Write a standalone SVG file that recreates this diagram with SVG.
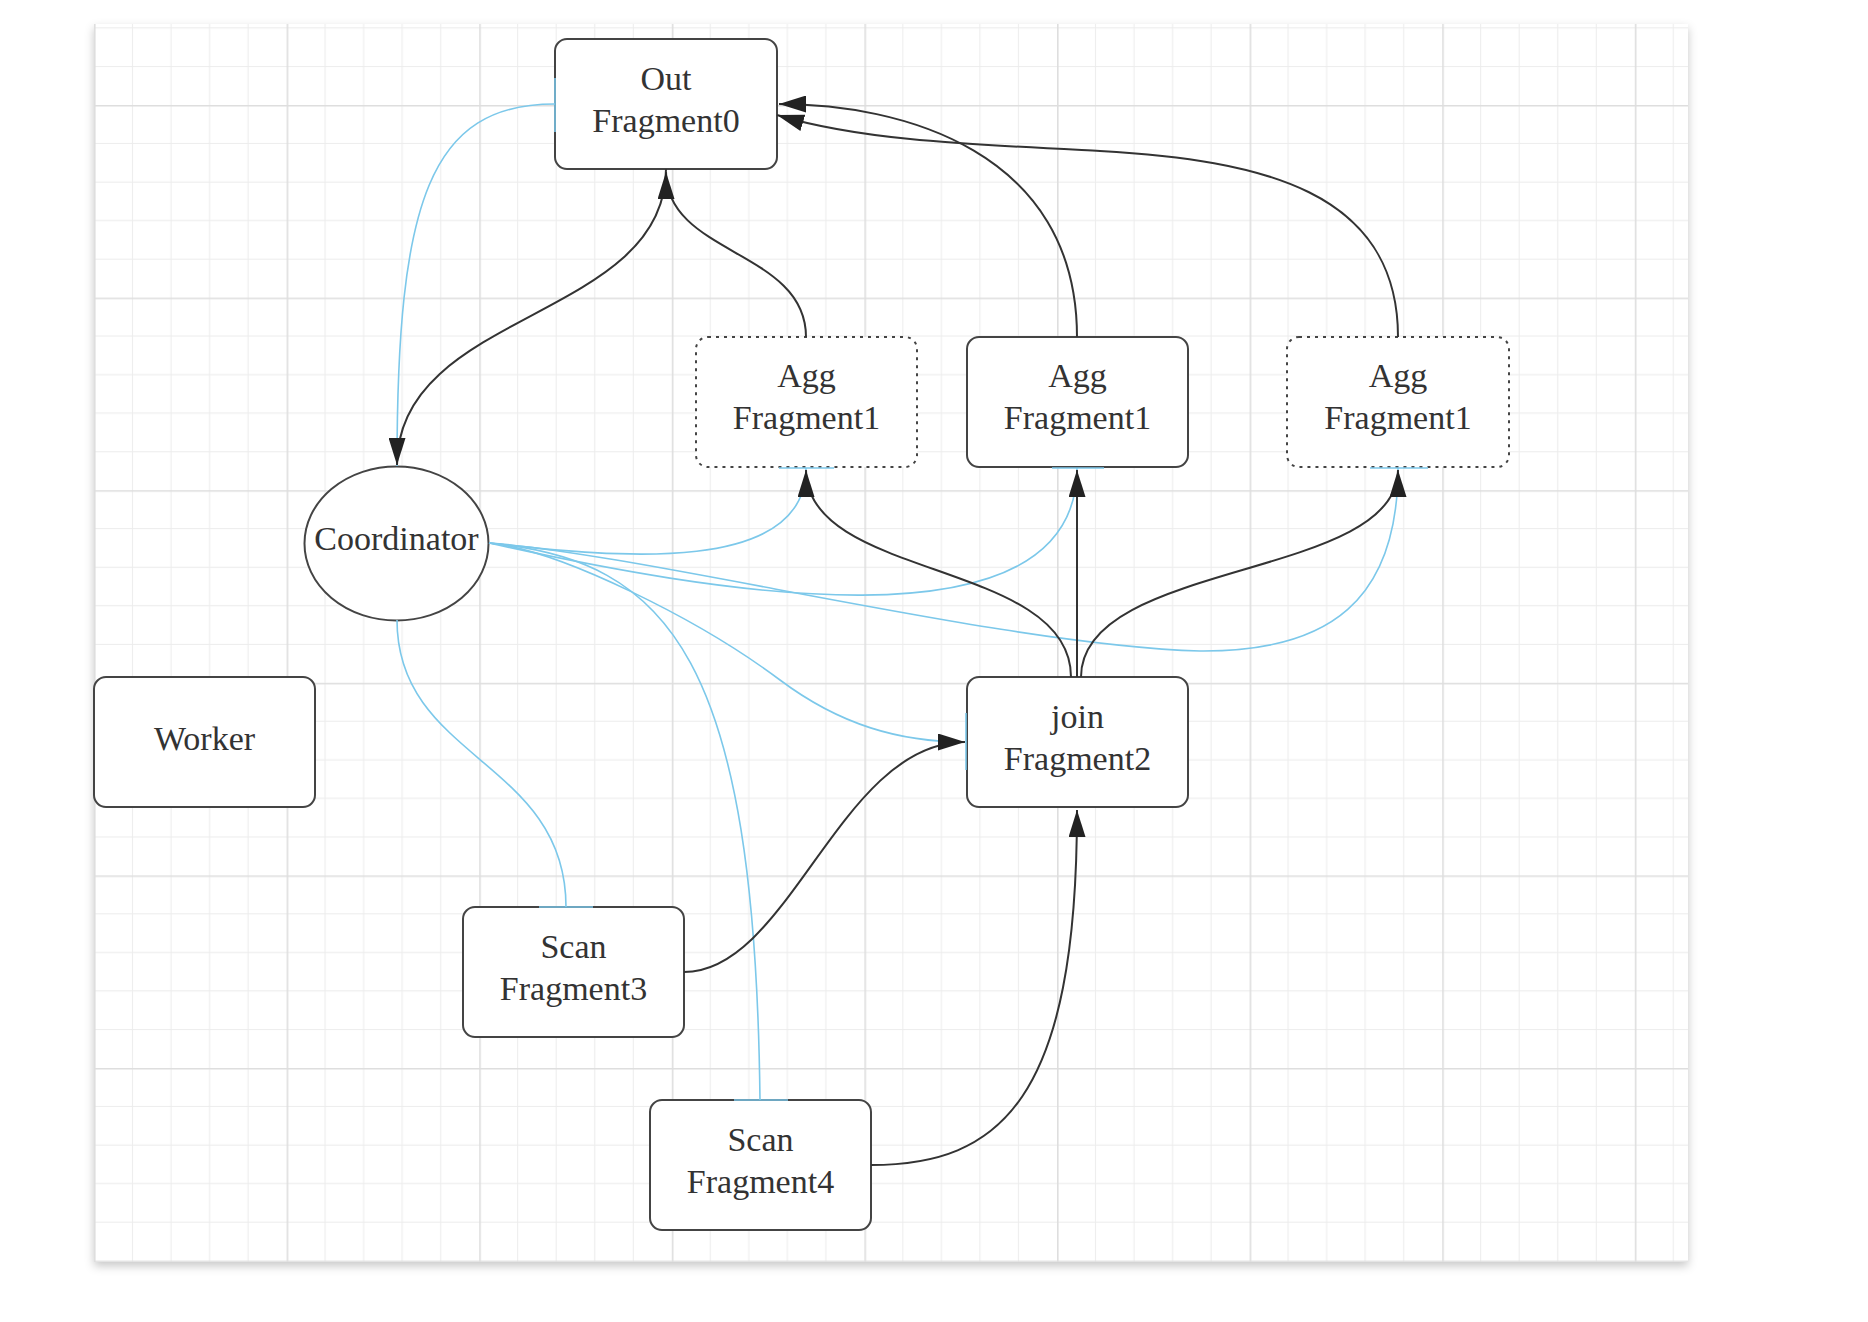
<svg xmlns="http://www.w3.org/2000/svg" width="1868" height="1322" viewBox="0 0 1868 1322">
<defs>
<style>
.box{fill:#fff;stroke:#444;stroke-width:2}
.dashed{stroke-dasharray:3 5}
.lbl{font-family:"Liberation Serif","Times New Roman",serif;font-size:34px;fill:#333;text-anchor:middle}
.edge{fill:none;stroke:#333;stroke-width:2}
.blue{fill:none;stroke:#7cc8ea;stroke-width:1.6}
.minor{stroke:#ececec;stroke-width:1}
.major{stroke:#dedede;stroke-width:1.6}
</style>
<pattern id="grid" x="94" y="105" width="192.6" height="192.6" patternUnits="userSpaceOnUse">
<path class="minor" d="M38.52,0V192.6M77.04,0V192.6M115.56,0V192.6M154.08,0V192.6M0,38.52H192.6M0,77.04H192.6M0,115.56H192.6M0,154.08H192.6"/>
<path class="major" d="M0.8,0V192.6M0,0.8H192.6"/>
</pattern>
<marker id="arr" viewBox="0 0 27 17" refX="27" refY="8.5" markerWidth="27" markerHeight="17" markerUnits="userSpaceOnUse" orient="auto">
<path d="M0,0 L27,8.5 L0,17 z" fill="#222"/>
</marker>
<filter id="sh" x="-5%" y="-5%" width="110%" height="110%">
<feDropShadow dx="0" dy="4" stdDeviation="5" flood-color="#000" flood-opacity="0.22"/>
</filter>
</defs>
<rect x="0" y="0" width="1868" height="1322" fill="#fff"/>
<rect x="94" y="24" width="1594" height="1238" fill="#fff" filter="url(#sh)"/>
<rect x="94" y="24" width="1594" height="1238" fill="url(#grid)"/>

<g id="out-fragment0">
<rect class="box" x="555" y="39" width="222" height="130" rx="12"/>
<text class="lbl" x="666" y="90">Out</text>
<text class="lbl" x="666" y="132">Fragment0</text>
</g>
<g id="agg-fragment1-a">
<rect class="box dashed" x="696" y="337" width="221" height="130" rx="12"/>
<text class="lbl" x="806.5" y="387">Agg</text>
<text class="lbl" x="806.5" y="429">Fragment1</text>
</g>
<g id="agg-fragment1-b">
<rect class="box" x="967" y="337" width="221" height="130" rx="12"/>
<text class="lbl" x="1077.5" y="387">Agg</text>
<text class="lbl" x="1077.5" y="429">Fragment1</text>
</g>
<g id="agg-fragment1-c">
<rect class="box dashed" x="1287" y="337" width="222" height="130" rx="12"/>
<text class="lbl" x="1398" y="387">Agg</text>
<text class="lbl" x="1398" y="429">Fragment1</text>
</g>
<g id="coordinator">
<ellipse class="box" cx="396.5" cy="543.5" rx="92" ry="77"/>
<text class="lbl" x="396.5" y="550">Coordinator</text>
</g>
<g id="worker">
<rect class="box" x="94" y="677" width="221" height="130" rx="12"/>
<text class="lbl" x="204.5" y="750">Worker</text>
</g>
<g id="join-fragment2">
<rect class="box" x="967" y="677" width="221" height="130" rx="12"/>
<text class="lbl" x="1077.5" y="728">join</text>
<text class="lbl" x="1077.5" y="770">Fragment2</text>
</g>
<g id="scan-fragment3">
<rect class="box" x="463" y="907" width="221" height="130" rx="12"/>
<text class="lbl" x="573.5" y="958">Scan</text>
<text class="lbl" x="573.5" y="1000">Fragment3</text>
</g>
<g id="scan-fragment4">
<rect class="box" x="650" y="1100" width="221" height="130" rx="12"/>
<text class="lbl" x="760.5" y="1151">Scan</text>
<text class="lbl" x="760.5" y="1193">Fragment4</text>
</g>

<g id="connectors">
<g id="blue-links">
<path class="blue" d="M555,104 C430,104 397,200 397,466"/>
<path class="blue" d="M489,543 C620,558 806,575 806,468"/>
<path class="blue" d="M489,543 C700,590 1077,660 1077,468"/>
<path class="blue" d="M489,543 C650,555 1000,645 1200,651 C1330,652 1398,600 1398,468"/>
<path class="blue" d="M489,543 C560,550 700,620 780,680 C840,725 900,742 965,742"/>
<path class="blue" d="M489,543 C670,560 755,660 760,1100"/>
<path class="blue" d="M397,620 C397,760 566,760 566,907"/>
<path class="blue" d="M555,78V132 M779,468H834 M1052,468H1104 M1370,468H1428 M966,713V770 M539,907H593 M734,1100H788"/>
</g>
<g id="black-links">
<path class="edge" d="M666,169 C666,320 397,310 397,465" marker-end="url(#arr)"/>
<path class="edge" d="M806,337 C806,250 666,255 666,172" marker-end="url(#arr)"/>
<path class="edge" d="M1077,337 C1077,150 900,104 779,104" marker-end="url(#arr)"/>
<path class="edge" d="M1398,337 C1398,190 1260,160 1100,151 C960,144 860,140 777,115" marker-end="url(#arr)"/>
<path class="edge" d="M1071,677 C1071,560 806,580 806,470" marker-end="url(#arr)"/>
<path class="edge" d="M1077,677 L1077,470" marker-end="url(#arr)"/>
<path class="edge" d="M1081,677 C1081,560 1398,580 1398,470" marker-end="url(#arr)"/>
<path class="edge" d="M684,972 C790,972 840,742 965,742" marker-end="url(#arr)"/>
<path class="edge" d="M871,1165 C1000,1165 1077,1100 1077,810" marker-end="url(#arr)"/>
</g>
</g>
</svg>
